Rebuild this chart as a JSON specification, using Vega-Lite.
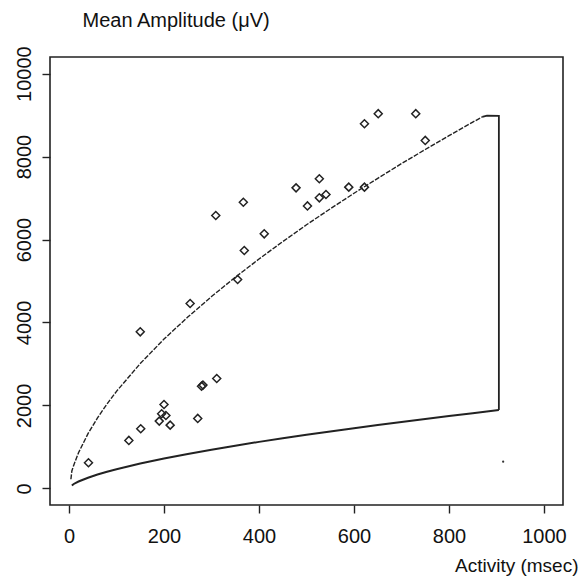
{
  "$schema": "https://vega.github.io/schema/vega-lite/v6.json",
  "width": 513,
  "height": 448,
  "autosize": "none",
  "padding": {"left": 50, "top": 57, "right": 20, "bottom": 76},
  "background": "white",
  "config": {
    "view": {"stroke": "#222", "strokeWidth": 1.6},
    "axis": {
      "labelFont": "Liberation Sans",
      "labelFontSize": 20,
      "labelColor": "#111",
      "titleFont": "Liberation Sans",
      "titleFontWeight": "normal",
      "titleColor": "#111",
      "tickColor": "#222",
      "tickWidth": 1.4,
      "tickSize": 8,
      "grid": false,
      "domain": false
    }
  },
  "encoding": {
    "x": {
      "field": "x",
      "type": "quantitative",
      "scale": {"domain": [-40, 1040], "nice": false, "zero": false},
      "axis": {
        "values": [0, 200, 400, 600, 800, 1000],
        "format": "d",
        "labelPadding": 13,
        "labelFlush": false,
        "labelOverlap": false,
        "title": "Activity (msec)",
        "titleFontSize": 19,
        "titleAlign": "right",
        "titleAnchor": null,
        "titleBaseline": "middle",
        "titleX": 528,
        "titleY": 60
      }
    },
    "y": {
      "field": "y",
      "type": "quantitative",
      "scale": {"domain": [-400, 10400], "nice": false, "zero": false},
      "axis": {
        "values": [0, 2000, 4000, 6000, 8000, 10000],
        "format": "d",
        "labelAngle": -90,
        "labelAlign": "center",
        "labelBaseline": "bottom",
        "labelPadding": 8,
        "labelFlush": false,
        "labelOverlap": false,
        "title": "Mean Amplitude (μV)",
        "titleFontSize": 20,
        "titleAngle": 0,
        "titleAlign": "left",
        "titleAnchor": null,
        "titleBaseline": "middle",
        "titleX": 32,
        "titleY": -37
      }
    }
  },
  "layer": [
    {
      "data": {"values": [
        {"x": 4, "y": 220}, {"x": 6, "y": 420}, {"x": 10, "y": 560}, {"x": 20, "y": 860},
        {"x": 40, "y": 1320}, {"x": 60, "y": 1700}, {"x": 80, "y": 2035}, {"x": 100, "y": 2340},
        {"x": 150, "y": 3010}, {"x": 200, "y": 3600}, {"x": 250, "y": 4130}, {"x": 300, "y": 4625},
        {"x": 350, "y": 5090}, {"x": 400, "y": 5530}, {"x": 450, "y": 5950}, {"x": 500, "y": 6355},
        {"x": 550, "y": 6740}, {"x": 600, "y": 7115}, {"x": 650, "y": 7475}, {"x": 700, "y": 7830},
        {"x": 750, "y": 8170}, {"x": 800, "y": 8505}, {"x": 850, "y": 8830}, {"x": 870, "y": 8955}
      ]},
      "mark": {"type": "line", "color": "#222", "strokeWidth": 1.4, "strokeDash": [5, 1.5]},
      "encoding": {}
    },
    {
      "data": {"values": [
        {"x": 870, "y": 8955}, {"x": 880, "y": 8985}, {"x": 905, "y": 8980}, {"x": 905, "y": 1888}
      ]},
      "mark": {"type": "line", "color": "#222", "strokeWidth": 1.8},
      "encoding": {"order": {"value": null}}
    },
    {
      "data": {"values": [
        {"x": 6, "y": 70}, {"x": 10, "y": 107}, {"x": 20, "y": 166}, {"x": 40, "y": 258},
        {"x": 60, "y": 334}, {"x": 80, "y": 402}, {"x": 100, "y": 463}, {"x": 150, "y": 600},
        {"x": 200, "y": 721}, {"x": 250, "y": 831}, {"x": 300, "y": 933}, {"x": 350, "y": 1030},
        {"x": 400, "y": 1122}, {"x": 450, "y": 1209}, {"x": 500, "y": 1293}, {"x": 550, "y": 1374},
        {"x": 600, "y": 1453}, {"x": 650, "y": 1529}, {"x": 700, "y": 1603}, {"x": 750, "y": 1675},
        {"x": 800, "y": 1745}, {"x": 850, "y": 1814}, {"x": 905, "y": 1888}
      ]},
      "mark": {"type": "line", "color": "#222", "strokeWidth": 2},
      "encoding": {}
    },
    {
      "data": {"values": [
        {"x": 41, "y": 619}, {"x": 126, "y": 1157}, {"x": 151, "y": 1438}, {"x": 150, "y": 3775},
        {"x": 200, "y": 2024}, {"x": 195, "y": 1800}, {"x": 204, "y": 1759}, {"x": 190, "y": 1622},
        {"x": 213, "y": 1525}, {"x": 271, "y": 1687}, {"x": 279, "y": 2465}, {"x": 282, "y": 2490},
        {"x": 311, "y": 2650}, {"x": 255, "y": 4458}, {"x": 355, "y": 5036}, {"x": 369, "y": 5735},
        {"x": 411, "y": 6137}, {"x": 309, "y": 6578}, {"x": 367, "y": 6899}, {"x": 478, "y": 7245},
        {"x": 502, "y": 6810}, {"x": 527, "y": 7464}, {"x": 527, "y": 7005}, {"x": 541, "y": 7085},
        {"x": 589, "y": 7263}, {"x": 622, "y": 7263}, {"x": 622, "y": 8792}, {"x": 651, "y": 9034},
        {"x": 730, "y": 9034}, {"x": 750, "y": 8389}
      ]},
      "mark": {"type": "point", "shape": "diamond", "filled": false, "color": "#222", "strokeWidth": 1.5, "size": 64, "opacity": 1},
      "encoding": {}
    },
    {
      "data": {"values": [{"x": 914, "y": 645}]},
      "mark": {"type": "point", "shape": "circle", "filled": true, "color": "#333", "size": 5, "opacity": 1},
      "encoding": {}
    }
  ]
}
